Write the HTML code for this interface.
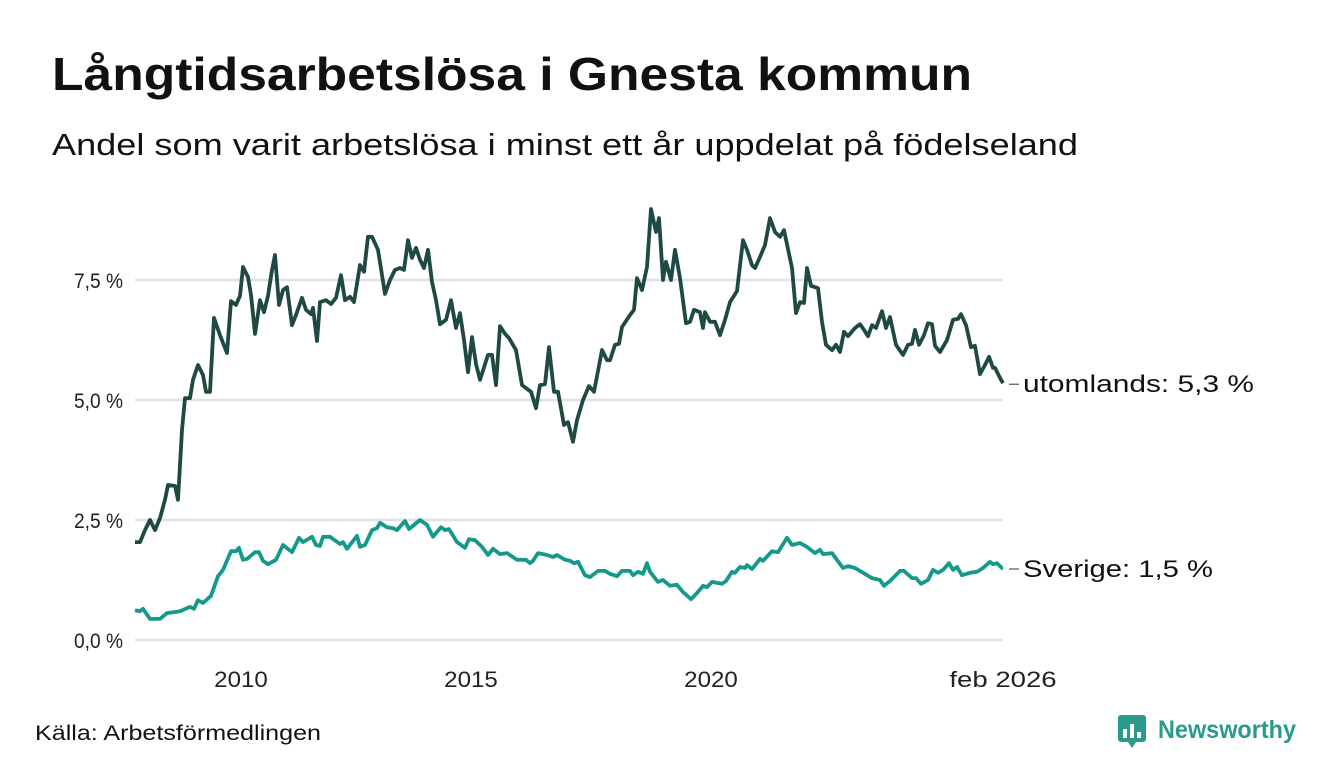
<!DOCTYPE html>
<html><head><meta charset="utf-8"><style>
body{margin:0;background:#fff;font-family:"Liberation Sans",sans-serif;}
#wrap{position:relative;width:1340px;height:780px;overflow:hidden;}
</style></head><body>
<div id="wrap">
<svg id="chart" width="1340" height="780" font-family="Liberation Sans, DejaVu Sans, sans-serif">
<text x="52" y="90" font-size="46" font-weight="bold" fill="#111" textLength="920" lengthAdjust="spacingAndGlyphs">Långtidsarbetslösa i Gnesta kommun</text>
<text x="52" y="155" font-size="31" fill="#111" textLength="1026" lengthAdjust="spacingAndGlyphs">Andel som varit arbetslösa i minst ett år uppdelat på födelseland</text>
<g id="grid"></g><g id="yt"></g><g id="xt"></g><g id="lines"></g>
<text x="35" y="740" font-size="21" fill="#111" textLength="286" lengthAdjust="spacingAndGlyphs">Källa: Arbetsförmedlingen</text>
<g>
<rect x="1118" y="715" width="28" height="27" rx="3" fill="#2a9a8c"/>
<path d="M1128 742 L1132 748 L1136 742 Z" fill="#2a9a8c"/>
<rect x="1123" y="729" width="4" height="9" fill="#fff"/><rect x="1130" y="724" width="4" height="14" fill="#fff"/><rect x="1137" y="732" width="4" height="6" fill="#fff"/>
<text x="1158" y="738" font-size="25" font-weight="bold" fill="#2a9a8c" textLength="138" lengthAdjust="spacingAndGlyphs">Newsworthy</text>
</g>
</svg>
</div>
<script>
const months = { u:[0,1.25,2.5,3.75,5,6.25,7.5,8.25,10,10.75,11.75,12.5,13.75,14.5,15.75,17,17.75,18.75,19.75,21.25,23,24,25.25,26.25,27,28.25,29,30,31.25,32.25,33.25,34.25,35,36,37,38,39.25,40.25,41.75,42.75,44,44.5,45.5,46.25,47.75,49,50.25,51.5,52.5,53.75,54.75,56.25,57.25,58.25,59.25,60.75,62.5,63.75,65,66.25,67.25,68.25,69.25,70.25,71.25,72.25,73.25,74.25,75.25,76.25,77.75,79,80.25,81.25,82.25,83.25,84.25,85.25,86.25,88.25,89.25,90.25,91.25,92.5,93.5,95.25,96.75,99,100.25,101.25,102.5,103.5,104.75,105.75,107.25,108.25,109.5,110.5,112,113.5,114.75,116.75,118,118.75,120,121,121.75,123.75,124.75,125.5,126.75,128,129,130.25,131,132,132.75,134,135,136.25,137.75,138.75,139.75,141.25,142,142.5,143.75,145,146.25,147.5,148.75,150.5,152,153,154.25,155,156.25,157.5,158.75,160,161.25,162.25,164.25,165.25,166.25,167.25,168,169,170.75,171.75,172.75,174.25,175.25,176.25,177.25,178.25,180,181.25,182.25,183.25,184.25,185.25,186.75,187.75,188.75,190.25,192,193.25,194.25,195,196,197.25,198.25,199.25,200,201.25,203,204.5,205.75,206.5,207.75,209,210,211.25,212.5,213.5,214.5,215,216.25,217]};
const utomlands = [2.04,2.04,2.29,2.5,2.29,2.54,2.92,3.23,3.21,2.92,4.38,5.04,5.04,5.42,5.73,5.52,5.17,5.17,6.71,6.35,5.98,7.06,6.98,7.17,7.77,7.56,7.19,6.38,7.08,6.83,7.17,7.71,8.02,6.98,7.29,7.35,6.56,6.77,7.13,6.88,6.79,6.92,6.23,7.04,7.08,7.0,7.13,7.6,7.08,7.15,7.04,7.81,7.67,8.4,8.4,8.13,7.21,7.5,7.71,7.75,7.71,8.33,7.96,8.17,7.92,7.75,8.13,7.46,7.08,6.58,6.67,7.08,6.5,6.81,6.25,5.58,6.31,5.75,5.42,5.94,5.94,5.31,6.54,6.38,6.29,6.04,5.31,5.17,4.83,5.31,5.33,6.1,5.17,5.17,4.48,4.54,4.13,4.58,5.0,5.29,5.17,6.04,5.83,5.83,6.15,6.17,6.52,6.77,6.88,7.54,7.29,7.77,8.98,8.5,8.79,7.5,7.88,7.5,8.13,7.54,6.6,6.63,6.88,6.83,6.5,6.83,6.63,6.63,6.35,6.67,7.04,7.27,8.33,8.13,7.81,7.75,7.98,8.23,8.79,8.5,8.4,8.54,7.75,6.81,7.04,7.02,7.75,7.38,7.33,6.63,6.15,6.04,6.15,6.0,6.42,6.33,6.5,6.58,6.46,6.33,6.56,6.5,6.85,6.5,6.73,6.15,5.94,6.15,6.17,6.46,6.15,6.35,6.6,6.58,6.13,6.0,6.25,6.67,6.69,6.79,6.56,6.1,6.13,5.54,5.73,5.9,5.67,5.67,5.46,5.35];
const sMonths = [0,1.25,2,3.75,6.25,8,11.25,13.75,14.75,15.75,17,19,20.75,22,24,25.25,26,27,28,30,31,32,33.25,35.25,37,39.25,41,42,44.25,45.25,46.25,47,48.75,51.25,52,53,55.5,56.25,57.5,59.25,60.5,61.25,63,64.5,65.5,67.5,68.5,71.25,73,74.5,76.5,77.5,78.5,80.5,82.5,83.5,85,86.75,88.25,89.5,91.25,93,95.5,97.75,98.75,99.5,100.75,103,104.5,105.5,107.5,108.75,109.75,110.75,112.5,113.75,115.75,117.5,118.75,120.5,121.75,123.75,124.5,125.75,127,128,128.75,130.75,132,133.75,135.5,137,139,140.5,142,143,144.25,146.75,147.75,149.25,150,151.25,152.5,153,154.25,156.25,157,159.25,160.75,163,164.25,166.25,168,170,171.25,172,174.25,177,178.25,180,182,184.25,186.25,187.25,188.75,191.25,192.25,194.25,195.25,196.5,198.25,199.5,200.75,202,203.5,204.5,205.5,206.75,208.75,210.5,212,213.75,214.5,215.5,216.75,217];
const sverige = [0.62,0.6,0.65,0.44,0.44,0.56,0.6,0.69,0.65,0.83,0.77,0.92,1.33,1.46,1.85,1.85,1.92,1.67,1.69,1.83,1.83,1.65,1.58,1.67,1.98,1.83,2.13,2.04,2.15,1.98,1.96,2.15,2.15,2.0,2.04,1.9,2.17,1.94,1.98,2.29,2.33,2.44,2.35,2.33,2.29,2.48,2.31,2.5,2.4,2.15,2.35,2.29,2.31,2.04,1.92,2.1,2.08,1.94,1.77,1.9,1.79,1.81,1.67,1.67,1.6,1.65,1.81,1.77,1.73,1.77,1.67,1.65,1.6,1.63,1.35,1.31,1.44,1.44,1.38,1.33,1.44,1.44,1.35,1.42,1.38,1.6,1.42,1.21,1.25,1.13,1.15,1.0,0.85,0.98,1.13,1.1,1.21,1.17,1.23,1.42,1.4,1.52,1.5,1.56,1.48,1.69,1.65,1.85,1.83,2.13,1.98,2.02,1.94,1.81,1.88,1.79,1.81,1.5,1.54,1.5,1.4,1.29,1.25,1.13,1.23,1.44,1.44,1.29,1.29,1.17,1.25,1.46,1.4,1.46,1.6,1.46,1.52,1.35,1.4,1.42,1.5,1.63,1.58,1.6,1.5,1.5];
const yTicks = [0,2.5,5,7.5];
const yTickLabels = ["0,0 %","2,5 %","5,0 %","7,5 %"];
const xTickMonths = [24,84,144,217];
const xTickLabels = ["2010","2015","2020","feb 2026"];
const endLabels = ["utomlands: 5,3 %","Sverige: 1,5 %"];

const NS="http://www.w3.org/2000/svg";
const X0=135,X1=1003,M0=0,M1=217;
const xs=m=>X0+(m-M0)/(M1-M0)*(X1-X0);
const ys=v=>640-v*48;
function mk(tag,attrs,parent){const e=document.createElementNS(NS,tag);for(const k in attrs)e.setAttribute(k,attrs[k]);document.getElementById(parent).appendChild(e);return e;}
yTicks.forEach((t,i)=>{
  const g=mk('line',{x1:X0,x2:X1,y1:ys(t),y2:ys(t),stroke:'#e1e0e7','stroke-width':2.5},'grid');
  
  
  const l=mk('text',{x:123,y:ys(t)+8,'font-size':21,'text-anchor':'end',fill:'#222',textLength:49,lengthAdjust:'spacingAndGlyphs'},'yt');
  l.textContent=yTickLabels[i];
  
  
});
xTickMonths.forEach((m,i)=>{
  const lab=xTickLabels[i];
  const l=mk('text',{x:xs(m)+(i===0?10:0),y:687,'font-size':22,'text-anchor':'middle',fill:'#222',textLength:lab.length*13.4,lengthAdjust:'spacingAndGlyphs'},'xt');
  l.textContent=lab;
  
  
});
function drawLine(ms,vals,color,name,label,w){
  const d=ms.map((m,i)=>(i?'L':'M')+xs(m).toFixed(1)+' '+ys(vals[i]).toFixed(1)).join(' ');
  const p=mk('path',{d:d,fill:'none',stroke:color,'stroke-width':3.8,'stroke-linejoin':'round'},'lines');
  
  
  const ly=ys(vals[vals.length-1])+1;
  const c=mk('line',{x1:X1+6,x2:X1+16,y1:ly,y2:ly,stroke:'#333','stroke-width':1},'lines');
  
  
  const t=mk('text',{x:X1+20,y:ly+8,'font-size':24,fill:'#111',textLength:w,lengthAdjust:'spacingAndGlyphs'},'lines');
  t.textContent=label;
  
  
}
drawLine(months.u,utomlands,'#1f4a44','utomlands',endLabels[0],231);
drawLine(sMonths,sverige,'#15998a','sverige',endLabels[1],190);
</script>
</body></html>
